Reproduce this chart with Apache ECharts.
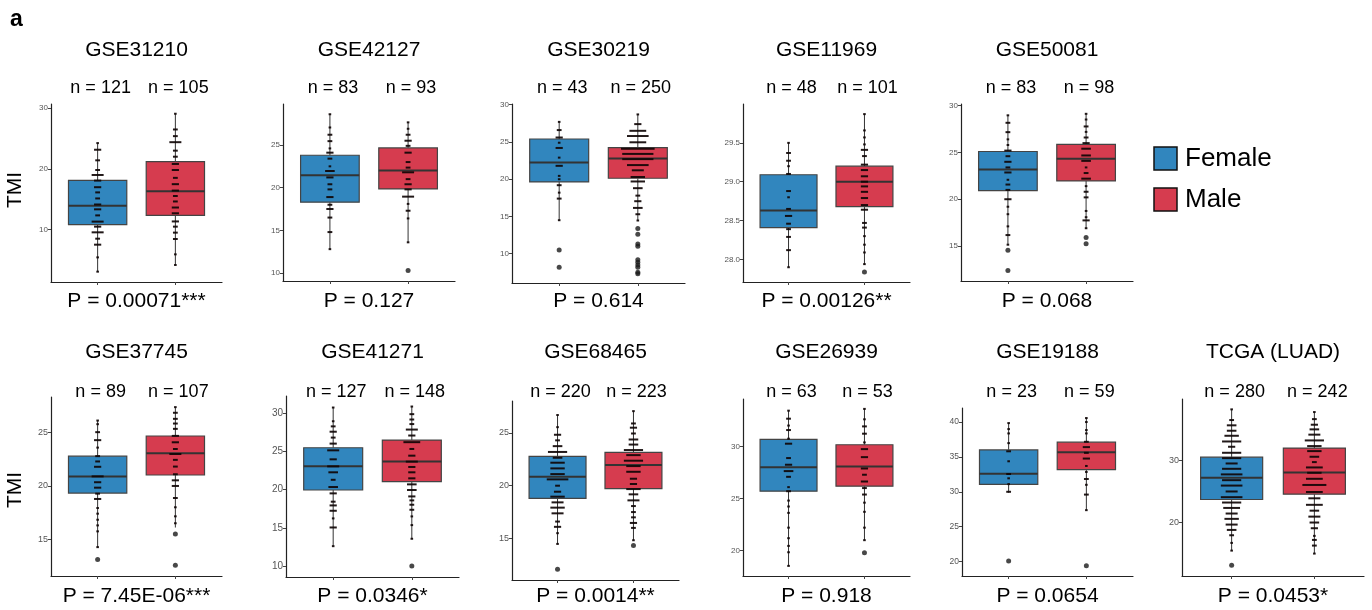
<!DOCTYPE html>
<html><head><meta charset="utf-8">
<script src="https://cdn.jsdelivr.net/npm/echarts@6/dist/echarts.min.js"></script>
<style>html,body{margin:0;padding:0;background:#fff}#c{width:1372px;height:610px}</style>
</head><body><div id="c"></div>
<script>
// ---------------- DATA ----------------
const groups = ['Female', 'Male'];
const datasets = ['GSE31210','GSE42127','GSE30219','GSE11969','GSE50081',
                  'GSE37745','GSE41271','GSE68465','GSE26939','GSE19188','TCGA (LUAD)'];
const nFemale = [121, 83, 43, 48, 83, 89, 127, 220, 63, 23, 280];
const nMale   = [105, 93, 250, 101, 98, 107, 148, 223, 53, 59, 242];
const pLabels = ['P = 0.00071***','P = 0.127','P = 0.614','P = 0.00126**','P = 0.068',
                 'P = 7.45E-06***','P = 0.0346*','P = 0.0014**','P = 0.918','P = 0.0654','P = 0.0453*'];
const yTicks = [[10,20,30],[10,15,20,25],[10,15,20,25,30],[28,28.5,29,29.5],[15,20,25,30],
                [15,20,25],[10,15,20,25,30],[15,20,25],[20,25,30],[20,25,30,35,40],[20,30]];
const yTickDecimals = [0,0,0,1,0,0,0,0,0,0,0];
const yLimits = [[1.29,30.71],[9.07,29.8],[6.07,30.1],[27.71,30.0],[11.26,30.18],
                 [11.55,28.35],[8.56,32.28],[11.06,28.03],[17.56,34.55],[17.94,42.0],[11.34,39.84]];
// box stats: [whiskerLow, Q1, median, Q3, whiskerHigh]
const boxFemale = [[3.0,10.76,13.9,18.1,24.2],[12.8,18.3,21.45,23.8,28.6],[14.46,19.64,22.23,25.4,27.7],
  [27.9,28.41,28.63,29.09,29.5],[15.14,20.93,23.17,25.1,28.97],[14.24,19.33,20.9,22.8,26.13],
  [12.6,19.96,23.06,25.5,30.8],[14.48,18.8,20.85,22.78,26.69],[18.53,25.7,28.0,30.67,33.43],
  [29.86,31.05,32.6,36.0,39.85],[15.43,23.66,27.15,30.48,38.17]];
const boxMale = [[4.1,12.3,16.3,21.2,29.1],[13.6,19.85,22.0,24.65,27.65],[14.46,20.13,22.77,24.24,28.7],
  [27.93,28.68,29.0,29.2,29.87],[16.87,21.96,24.34,25.87,29.1],[16.1,21.03,23.06,24.69,27.38],
  [13.55,21.05,23.68,26.5,30.9],[14.83,19.72,21.96,23.15,27.07],[21.0,26.18,28.08,30.16,33.6],
  [27.4,33.17,35.68,37.1,40.58],[14.95,24.52,28.0,31.94,37.74]];
// outliers
const outFemale = [[],[],[10.5,8.17],[],[14.54,12.37],[13.1],[],[12.08],[],[20.1],[13.06]];
const outMale = [[],[10.3],[13.4,12.6,11.3,11.0,9.2,8.85,8.5,8.2,7.5,7.3],[27.84],[15.9,15.23],
  [15.5,12.57],[10.0],[14.32],[19.8],[19.4],[]];
// dot-plot rows: [value, stacked count]
const dotsFemale = [
 [[24.25,1],[23.15,3],[21.4,2],[19.8,2],[18.98,5],[18.05,3],[16.96,3],[16.1,2],[15.1,2],[14.1,3],[13.3,3],[12.3,2],[11.27,5],[10.44,3],[9.5,5],[8.45,2],[7.46,3],[5.36,1],[3.0,1]],
 [[28.6,1],[27.05,1],[26.2,2],[25.45,2],[24.6,1],[24.1,3],[23.4,2],[22.5,1],[21.95,4],[21.2,3],[20.4,2],[19.8,2],[18.9,3],[18.0,2],[17.5,3],[16.5,2],[14.8,2],[12.8,1]],
 [[27.7,1],[26.6,2],[25.6,3],[24.9,1],[24.2,3],[22.9,1],[21.8,3],[20.45,1],[20.0,1],[19.2,2],[18.2,1],[17.4,2],[14.5,1]],
 [[29.5,1],[29.37,2],[29.27,2],[29.2,1],[29.1,2],[28.88,2],[28.8,1],[28.65,2],[28.56,3],[28.46,2],[28.39,2],[28.29,2],[28.12,2],[27.9,1]],
 [[28.97,1],[28.17,2],[27.17,2],[26.4,1],[25.8,1],[25.2,3],[24.6,2],[24.0,3],[23.4,2],[22.86,3],[22.08,1],[21.57,2],[21.0,2],[20.0,3],[19.2,1],[18.4,1],[17.1,1],[16.17,2],[15.14,1]],
 [[26.14,1],[25.8,1],[25.05,2],[24.3,3],[23.6,1],[22.8,2],[22.3,2],[21.8,3],[20.9,5],[20.35,3],[19.84,3],[19.28,2],[18.78,3],[17.93,1],[17.4,1],[16.83,1],[16.3,1],[15.74,1],[14.26,1]],
 [[30.77,1],[28.97,1],[28.3,2],[27.6,3],[26.83,2],[26.04,3],[25.16,5],[23.98,3],[23.06,5],[22.28,4],[21.3,2],[20.35,4],[19.52,3],[18.43,2],[17.94,3],[17.24,3],[16.24,1],[15.05,3],[12.6,1]],
 [[26.7,1],[25.55,1],[24.83,3],[24.3,2],[23.75,4],[23.2,8],[22.65,4],[22.18,6],[21.64,6],[21.1,6],[20.6,9],[20.0,2],[19.43,3],[18.96,6],[18.42,5],[17.92,6],[17.38,5],[16.6,2],[16.1,3],[15.5,1],[14.48,1]],
 [[33.43,1],[32.66,2],[32.0,1],[31.57,2],[30.74,1],[30.26,3],[28.88,2],[28.24,3],[27.63,4],[27.08,2],[26.09,1],[25.7,2],[24.8,1],[24.23,1],[23.62,1],[22.2,1],[21.19,1],[20.45,1],[19.84,1],[18.53,1]],
 [[39.84,1],[38.98,1],[38.36,1],[36.97,1],[35.8,2],[34.37,1],[32.55,2],[31.93,1],[31.1,1],[30.0,2]],
 [[38.17,1],[36.45,2],[35.6,4],[34.73,4],[33.92,6],[33.0,8],[32.15,3],[31.18,8],[30.32,8],[29.46,5],[28.6,8],[27.7,9],[26.77,8],[25.9,9],[24.95,5],[24.03,9],[23.17,8],[22.3,7],[21.4,5],[20.54,6],[19.62,5],[18.76,4],[17.9,2],[16.67,1],[15.43,1]]
];
const dotsMale = [
 [[29.1,1],[26.5,2],[25.4,2],[24.4,5],[23.0,2],[22.0,2],[20.8,3],[19.8,3],[18.5,2],[17.46,3],[16.4,3],[15.5,2],[14.6,2],[13.6,3],[12.65,3],[11.3,3],[10.44,2],[9.45,2],[8.4,2],[5.86,1],[4.1,1]],
 [[27.65,1],[26.9,1],[26.2,2],[25.5,3],[24.9,2],[24.1,3],[23.0,2],[22.35,2],[21.8,5],[21.0,2],[20.4,3],[19.8,3],[18.95,5],[18.1,1],[17.3,2],[16.4,1],[13.6,1]],
 [[28.7,1],[27.4,3],[26.5,7],[25.8,9],[24.96,7],[24.1,14],[23.4,13],[22.7,13],[21.9,9],[21.2,5],[20.3,6],[19.7,6],[18.8,4],[17.8,2],[17.05,3],[16.15,4],[15.3,2],[14.46,1]],
 [[29.87,1],[29.66,1],[29.57,1],[29.48,1],[29.41,3],[29.33,2],[29.22,3],[29.15,3],[29.07,3],[29.0,3],[28.94,3],[28.87,3],[28.79,3],[28.7,3],[28.64,3],[28.47,2],[28.41,2],[28.3,1],[28.19,1],[28.09,1],[27.94,1]],
 [[29.13,1],[28.52,1],[27.78,2],[27.2,1],[26.6,2],[26.0,3],[25.4,4],[24.68,4],[24.1,4],[23.4,1],[22.8,2],[22.2,4],[21.4,1],[20.8,2],[20.2,2],[18.75,1],[18.08,1],[17.74,3],[16.9,1]],
 [[27.4,1],[26.87,2],[26.3,2],[25.86,2],[25.36,2],[24.7,3],[24.1,3],[23.47,2],[23.0,5],[22.45,2],[21.82,2],[21.1,2],[20.53,3],[20.0,3],[18.87,2],[18.0,1],[17.15,1],[16.5,1]],
 [[30.9,1],[29.9,2],[29.2,2],[28.6,2],[27.88,5],[27.1,3],[26.23,7],[25.34,2],[24.46,3],[23.68,5],[22.98,3],[22.28,3],[21.49,3],[20.7,4],[19.96,4],[19.12,3],[18.6,2],[18.03,2],[17.37,2],[16.5,1],[15.36,1],[13.57,1]],
 [[27.07,1],[25.9,2],[25.5,3],[24.95,2],[24.38,4],[23.9,4],[23.38,8],[22.9,6],[22.37,8],[21.86,6],[21.32,6],[20.66,3],[20.16,3],[19.68,6],[19.18,4],[18.61,5],[18.07,2],[17.5,2],[17.0,2],[16.47,3],[16.0,2],[14.83,1]],
 [[33.6,1],[32.6,1],[31.92,2],[31.22,2],[30.38,1],[29.74,3],[28.97,3],[27.88,3],[27.28,2],[26.63,3],[26.0,2],[25.38,2],[24.6,1],[23.72,1],[22.2,1],[21.0,1]],
 [[40.56,1],[39.99,1],[38.84,1],[38.36,1],[37.16,2],[36.4,3],[35.58,2],[34.76,3],[33.7,1],[32.84,1],[31.83,2],[31.0,1],[29.6,2],[27.37,1]],
 [[37.74,1],[36.6,2],[35.7,3],[34.95,4],[34.1,5],[33.17,8],[32.26,6],[31.45,6],[30.54,4],[29.68,2],[28.82,7],[27.96,6],[26.99,7],[26.0,10],[24.87,7],[23.85,5],[22.8,7],[21.86,4],[20.9,5],[19.95,4],[19.03,3],[17.8,1],[17.15,2],[16.24,2],[14.95,1]]
];

// ---------------- LAYOUT / STYLE ----------------
const colors = ['#3186BE', '#D63C4F'];
const FONT = '"Liberation Sans", Arial, Helvetica, sans-serif';
const grids = [
  {left:51, top:104, width:171, height:178},
  {left:283, top:104, width:172, height:177},
  {left:512, top:104, width:173, height:179},
  {left:743, top:104, width:167, height:178},
  {left:961, top:104, width:172, height:177},
  {left:51, top:397, width:171, height:179},
  {left:286, top:396, width:173, height:181},
  {left:512, top:401, width:167, height:179},
  {left:743, top:399, width:167, height:177},
  {left:962, top:408, width:171, height:168},
  {left:1182, top:399, width:182, height:177}
];
const tickFont = [8,8,8,8,8,9,10,9,8,8.5,9];
const rowY = [{title:50, n:88, p:301}, {title:352, n:392, p:596}];
const DOT_W = 2.4;

function renderBox(params, api) {
  const x = api.value(0);
  const lo = api.coord([x, api.value(1)]), q1 = api.coord([x, api.value(2)]),
        md = api.coord([x, api.value(3)]), q3 = api.coord([x, api.value(4)]),
        hi = api.coord([x, api.value(5)]);
  const ci = api.value(6);
  const w = api.size([0.75, 0])[0];
  const cx = md[0];
  return {type:'group', children:[
    {type:'line', shape:{x1:cx, y1:hi[1], x2:cx, y2:q3[1]}, style:{stroke:'#333', lineWidth:1}},
    {type:'line', shape:{x1:cx, y1:q1[1], x2:cx, y2:lo[1]}, style:{stroke:'#333', lineWidth:1}},
    {type:'rect', shape:{x:cx - w/2, y:q3[1], width:w, height:q1[1] - q3[1]},
      style:{fill:colors[ci], stroke:'#444', lineWidth:1.2}},
    {type:'line', shape:{x1:cx - w/2, y1:md[1], x2:cx + w/2, y2:md[1]}, style:{stroke:'#333', lineWidth:2}}
  ]};
}
function renderDash(params, api) {
  const p = api.coord([api.value(0), api.value(1)]);
  const half = Math.max(1.3, api.value(2) * DOT_W / 2);
  return {type:'line', shape:{x1:p[0] - half, y1:p[1], x2:p[0] + half, y2:p[1]},
    style:{stroke:'rgba(15,5,5,0.92)', lineWidth:2}};
}

const option = {
  animation:false,
  backgroundColor:'#fff',
  grid: grids.map(g => Object.assign({containLabel:false, outerBoundsMode:'none'}, g)),
  xAxis: grids.map((g, i) => ({
    gridIndex:i, type:'value', min:0.4, max:2.6,
    axisLine:{show:true, onZero:false, lineStyle:{color:'#222', width:1.2}},
    axisTick:{show:true, customValues:[1,2], length:3, lineStyle:{color:'#444'}},
    axisLabel:{show:false}, splitLine:{show:false}
  })),
  yAxis: grids.map((g, i) => ({
    gridIndex:i, type:'value', min:yLimits[i][0], max:yLimits[i][1],
    axisLine:{show:true, onZero:false, lineStyle:{color:'#222', width:1.2}},
    axisTick:{show:true, customValues:yTicks[i], length:3, lineStyle:{color:'#444'}},
    axisLabel:{show:true, customValues:yTicks[i], fontSize:tickFont[i], color:'#555', margin:3,
      fontFamily:FONT, formatter: v => Number(v).toFixed(yTickDecimals[i])},
    splitLine:{show:false}
  })),
  series: []
};
datasets.forEach((d, i) => {
  option.series.push({
    type:'custom', xAxisIndex:i, yAxisIndex:i, renderItem:renderBox, z:2,
    data:[[1].concat(boxFemale[i], [0]), [2].concat(boxMale[i], [1])]
  });
  option.series.push({
    type:'custom', xAxisIndex:i, yAxisIndex:i, renderItem:renderDash, z:3,
    data: dotsFemale[i].map(r => [1, r[0], r[1]]).concat(dotsMale[i].map(r => [2, r[0], r[1]]))
  });
  option.series.push({
    type:'scatter', xAxisIndex:i, yAxisIndex:i, symbolSize:5, z:4,
    itemStyle:{color:'#1a1a1a'},
    data: outFemale[i].map(v => [1, v]).concat(outMale[i].map(v => [2, v]))
  });
});

const chart = echarts.init(document.getElementById('c'), null, {renderer:'canvas'});
chart.setOption(option);

// text annotations
const graphic = [];
graphic.push({type:'text', left:10, top:8, style:{text:'a', font:'bold 23px ' + FONT, fill:'#000'}});
datasets.forEach((d, i) => {
  const g = grids[i];
  const row = i < 5 ? 0 : 1;
  const cx = g.left + g.width / 2;
  const pF = chart.convertToPixel({gridIndex:i}, [1, yLimits[i][1]]);
  const pM = chart.convertToPixel({gridIndex:i}, [2, yLimits[i][1]]);
  graphic.push({type:'text', x:cx, y:rowY[row].title, style:{text:d, font:'21px ' + FONT, fill:'#000', align:'center', verticalAlign:'middle'}});
  graphic.push({type:'text', x:pF[0] + 3, y:rowY[row].n, style:{text:'n = ' + nFemale[i], font:'18px ' + FONT, fill:'#000', align:'center', verticalAlign:'middle'}});
  graphic.push({type:'text', x:pM[0] + 3, y:rowY[row].n, style:{text:'n = ' + nMale[i], font:'18px ' + FONT, fill:'#000', align:'center', verticalAlign:'middle'}});
  graphic.push({type:'text', x:cx, y:rowY[row].p, style:{text:pLabels[i], font:'21px ' + FONT, fill:'#000', align:'center', verticalAlign:'middle'}});
});
[190, 490].forEach(y => {
  graphic.push({type:'text', x:15, y:y, rotation:Math.PI / 2,
    style:{text:'TMI', font:'21px ' + FONT, fill:'#000', align:'center', verticalAlign:'middle'}});
});
// legend
groups.forEach((name, k) => {
  const y0 = 147 + k * 41;
  graphic.push({type:'rect', shape:{x:1154, y:y0, width:23, height:23},
    style:{fill:colors[k], stroke:'#111', lineWidth:1.5}});
  graphic.push({type:'text', x:1185, y:y0 + 12, style:{text:name, font:'26px ' + FONT, fill:'#000', align:'left', verticalAlign:'middle'}});
});
chart.setOption({graphic:graphic});
</script></body></html>
